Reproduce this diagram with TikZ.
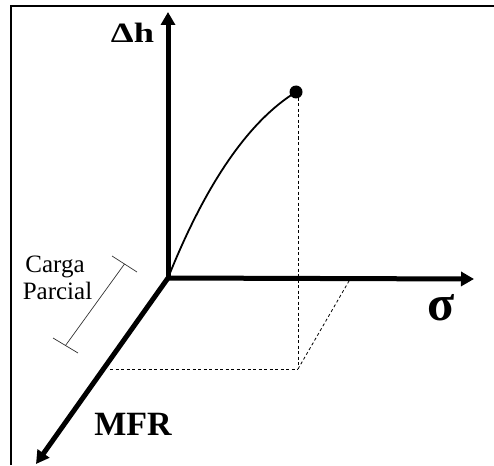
\documentclass[tikz,border=0pt]{standalone}
\usepackage{fontspec}
\setmainfont{Liberation Serif}
\usetikzlibrary{arrows.meta}
\begin{document}
\begin{tikzpicture}[x=1pt,y=-1pt,
  axis/.style={line width=5pt,-{Triangle[length=13pt,width=14pt]}},
  frameline/.style={line width=2pt},
  guide/.style={dash pattern=on 3pt off 2.5pt, line width=0.8pt},
  boldlabel/.style={font=\bfseries\fontsize{34}{36}\selectfont, inner sep=0pt, anchor=base},
  smalllabel/.style={font=\fontsize{25}{27}\selectfont, inner sep=0pt, anchor=base},
  bracket/.style={line width=0.7pt, black!80}
]
\useasboundingbox (0,0) rectangle (494,465);
% frame (top and left only)
\coordinate (FL) at (11,465);
\coordinate (FC) at (11,6);
\coordinate (FR) at (494,6);
\draw[frameline] (FL) -- (FC) -- (FR);
% axes
\coordinate (O) at (168,278);
\coordinate (Ytip) at (168,12);
\coordinate (Xtip) at (474,279);
\coordinate (Ztip) at (36,464);
\draw[axis] (O) -- (Ytip);
\draw[axis] (O) -- (Xtip);
\draw[axis] (O) -- (Ztip);
% curve and end dot
\coordinate (Pc) at (296,92);
\draw[line width=1.8pt] (O) .. controls (206,183) and (249,121) .. (Pc);
\node[circle, fill, inner sep=0pt, minimum size=13pt] (P) at (Pc) {};
% dashed projection lines
\coordinate (Ptop) at (298,98);
\coordinate (V) at (298,369);
\coordinate (M) at (110,369);
\coordinate (S) at (349,281);
\draw[guide] (Ptop) -- (V);
\draw[guide] (M) -- (V);
\draw[guide] (V) -- (S);
% bracket "Carga Parcial"
\coordinate (B1) at (124.5,264);
\coordinate (B2) at (65.5,345.5);
\coordinate (T1a) at (112,256);
\coordinate (T1b) at (137,272);
\coordinate (T2a) at (53,338);
\coordinate (T2b) at (78,353);
\draw[bracket] (B1) -- (B2);
\draw[bracket] (T1a) -- (T1b);
\draw[bracket] (T2a) -- (T2b);
% labels
\node[boldlabel, font=\bfseries\fontsize{28}{30}\selectfont, xscale=1.3] (dh) at (132.5,43) {Δh};
\node[boldlabel, font=\bfseries\fontsize{50}{52}\selectfont] (sig) at (441,320) {σ};
\node[boldlabel] (mfr) at (133,435) {MFR};
\node[smalllabel] (carga) at (55,272) {Carga};
\node[smalllabel] (parcial) at (57.5,299) {Parcial};
\end{tikzpicture}
\end{document}
